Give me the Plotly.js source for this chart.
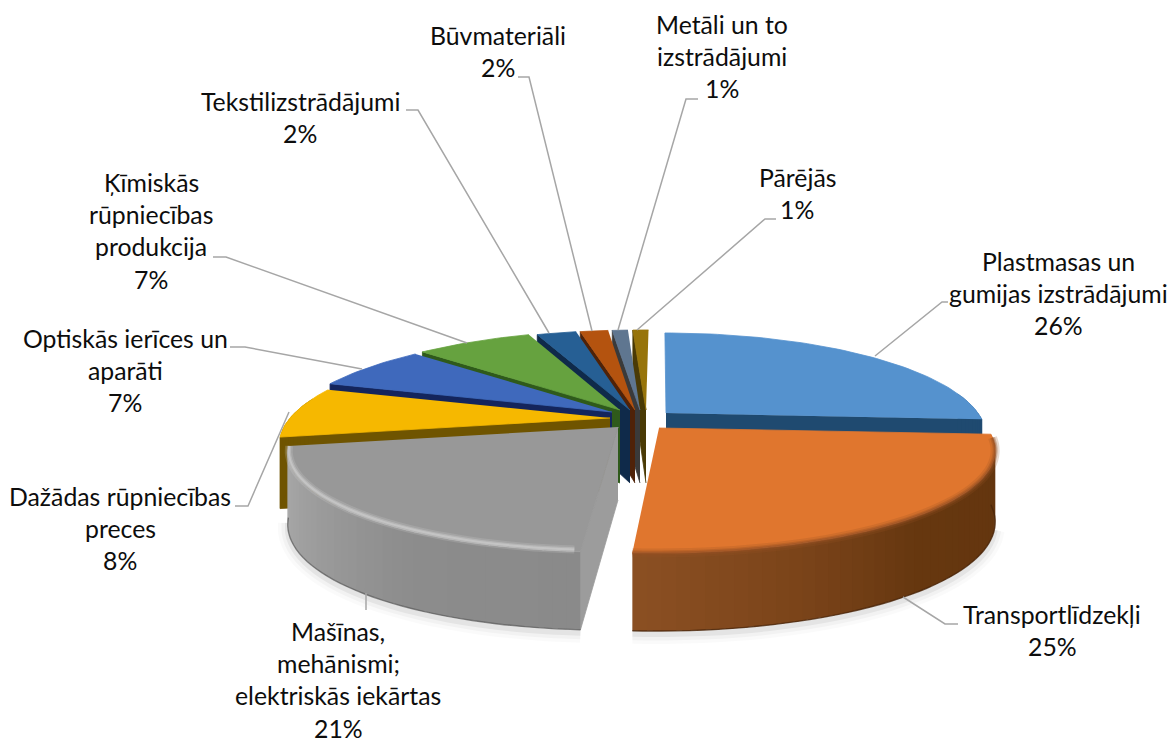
<!DOCTYPE html>
<html><head><meta charset="utf-8">
<script src="https://cdn.plot.ly/plotly-3.0.1.min.js"></script>
<style>html,body{margin:0;padding:0;background:#fff}#c{width:1171px;height:740px}</style></head>
<body><div id="c"></div>
<script>
// --- data ---
const categories = ["Plastmasas un|gumijas izstrādājumi","Transportlīdzekļi","Mašīnas,|mehānismi;|elektriskās iekārtas","Dažādas rūpniecības|preces","Optiskās ierīces un|aparāti","Ķīmiskās|rūpniecības|produkcija","Tekstilizstrādājumi","Būvmateriāli","Metāli un to|izstrādājumi","Pārējās"];
const shares = [26,25,21,8,7,7,2.4,1.7,0.95,0.95];
// --- styling ---
const topColors = ["#5592CE","#E0762E","#989898","#F6B800","#3F69BC","#66A23F","#265F94","#B4530F","#5F7690","#97740A"];
const faceColors = ["#1F4A70","#6A3A14","#9C9C9C","#6F5400","#14255C","#2F5A1B","#0F2A4A","#4F2208","#3A3A3A","#4A3A05"];
const wallStops = [
 [[0,"#1F4A70"],[360,"#1F4A70"]],
 [[93,"#63350F"],[140,"#66370F"],[160,"#7A4319"],[184,"#8B5023"]],
 [[183,"#8A8A8A"],[210,"#8C8C8C"],[240,"#A0A0A0"],[260,"#ABABAB"]],
 [[259,"#6F5400"],[290,"#6F5400"]],
 [[0,"#14255C"],[360,"#14255C"]],[[0,"#2F5A1B"],[360,"#2F5A1B"]],[[0,"#0F2A4A"],[360,"#0F2A4A"]],
 [[0,"#4F2208"],[360,"#4F2208"]],[[0,"#3A3A3A"],[360,"#3A3A3A"]],[[0,"#4A3A05"],[360,"#4A3A05"]]];
const apexX = [666,659,618,610,612,620,630,635,640,646];
const apexY = [413,428,427,418,412,410,410,410,410,410];
const radiusX = [312,328,320,320,320,320,320,320,320,320];
const vanishX = 660, depthK = 0.2195, depthB = 97.6;
const paintOrder = [9,8,7,6,5,4,3,0,2,1];
const labelX = [1058,1052,338,120,125,151,300,498,722,797];
const labelY = [261,614,631,496,338,182,101,35,24,177];
const lineGap = 32.4;
const leaders = [
 "M875,356 L942,302 L948,302",
 "M903,597 L945,624 L958,624",
 "M366,593 L366,610",
 "M289,412 L248,506 L235,506",
 "M362,369 L245,347 L230,347",
 "M467,343 L226,257 L213,257",
 "M549,333 L418,110 L406,110",
 "M592,331 L529,77 L518,77",
 "M618,330 L686,99 L698,99",
 "M637,330 L765,219 L776,219"];

// --- projection of the tilted disc, driven by the share angles ---
const total = shares.reduce((a,b)=>a+b,0);
let acc = 0;
const startAngle = [], endAngle = [];
shares.forEach(v=>{startAngle.push(acc/total*360);acc+=v;endAngle.push(acc/total*360);});
const rad = d=>d*Math.PI/180;
function rim(i,t){
  const d = 1+depthK*Math.cos(rad(t));
  return [vanishX+(apexX[i]-vanishX+radiusX[i]*Math.sin(rad(t)))/d, apexY[i]-depthB*Math.cos(rad(t))/d];
}
const wallH = t=>70-8*Math.cos(rad(t));
function hex(c){return [1,3,5].map(k=>parseInt(c.substr(k,2),16));}
function wallColor(i,t){
  const s = wallStops[i];
  if(t<=s[0][0]) return s[0][1];
  for(let k=1;k<s.length;k++) if(t<=s[k][0]){
    const f=(t-s[k-1][0])/(s[k][0]-s[k-1][0]),a=hex(s[k-1][1]),b=hex(s[k][1]);
    return `rgb(${a.map((v,j)=>Math.round(v+(b[j]-v)*f)).join(",")})`;
  }
  return s[s.length-1][1];
}
const traces = [];
function poly(pts,color,lw){
  traces.push({type:"scatter",mode:"lines",x:pts.map(p=>p[0]),y:pts.map(p=>p[1]),fill:"toself",fillcolor:color,
    line:{color:color,width:lw===undefined?0.8:lw},hoverinfo:"skip",showlegend:false});
}
function stroke(pts,color,w){
  traces.push({type:"scatter",mode:"lines",x:pts.map(p=>p[0]),y:pts.map(p=>p[1]),
    line:{color:color,width:w,shape:"spline",smoothing:0.6},hoverinfo:"skip",showlegend:false});
}
function arc(i,a,b,step,dy){
  const n=Math.max(2,Math.ceil((b-a)/step)),out=[];
  for(let k=0;k<=n;k++){const t=a+(b-a)*k/n,p=rim(i,t);out.push([p[0],p[1]+(dy?wallH(t):0)]);}
  return out;
}
// soft shadow under the front rim
[[20,0.02],[13,0.03],[6,0.055]].forEach(([w,o])=>{
  [1,2].forEach(i=>stroke(arc(i,Math.max(startAngle[i],105),Math.min(endAngle[i],258),5,true).map(p=>[p[0],p[1]+3]),`rgba(0,0,0,${o})`,w));
});
paintOrder.forEach(i=>{
  const a=startAngle[i],b=endAngle[i];
  // radial cut face
  const faceT = i===0?b:a;
  if(i!==1){
    const r=rim(i,faceT);
    poly([[apexX[i],apexY[i]],r,[r[0],r[1]+wallH(faceT)],[apexX[i],apexY[i]+73]],faceColors[i]);
  }
  // outer wall (front-facing part only), shaded strip by strip, each overlapping the next
  const lo=Math.max(a,78),hi=Math.min(b,282);
  if(hi>lo){
    const step=2,n=Math.ceil((hi-lo)/step);
    for(let k=0;k<n;k++){
      const t0=lo+(hi-lo)*k/n,t1=Math.min(hi,lo+(hi-lo)*(k+1)/n+1.2);
      const top=arc(i,t0,t1,step,false),bot=arc(i,t0,t1,step,true).reverse();
      poly(top.concat(bot),wallColor(i,(t0+t1)/2),0);
    }
    if(i===1||i===2) stroke(arc(i,lo,hi,4,true),i===1?"rgba(74,38,10,0.8)":"rgba(90,90,90,0.7)",1.4);
  }
  // top surface
  poly([[apexX[i],apexY[i]]].concat(arc(i,a,b,1.5,false)),topColors[i]);
  if(i===1) [[9,0.22],[5,0.35],[2.5,0.5]].forEach(([w,o])=>stroke(arc(i,a+2,b,4,false),`rgba(150,80,35,${o})`,w));
  if(i===2) [[8,0.2],[4.5,0.35],[2,0.45]].forEach(([w,o])=>stroke(arc(i,a+1,b-1,4,false).map(p=>[p[0]+1,p[1]-2]),`rgba(215,215,215,${o})`,w));
});
// --- labels: one real text per line, the last line is the share ---
const annotations=[];
categories.forEach((c,i)=>{
  const lines=c.split("|").concat([Math.round(shares[i]/total*100)+"%"]);
  lines.forEach((t,k)=>annotations.push({text:t,x:labelX[i],y:labelY[i]+k*lineGap,xref:"x",yref:"y",
    xanchor:"center",yanchor:"middle",showarrow:false,font:{family:"Lato, 'Open Sans', sans-serif",size:24.8,color:"#0D0D0D"}}));
});
const shapes=leaders.map(p=>({type:"path",path:p,xref:"x",yref:"y",line:{color:"#A6A6A6",width:1.5},layer:"above"}));
const hidden={visible:false,fixedrange:true};
Plotly.newPlot("c",traces,{
  width:1171,height:740,margin:{l:0,r:0,t:0,b:0},paper_bgcolor:"#fff",plot_bgcolor:"#fff",showlegend:false,
  xaxis:Object.assign({range:[0,1171]},hidden),yaxis:Object.assign({range:[740,0]},hidden),
  annotations,shapes
},{displayModeBar:false,staticPlot:true});
</script></body></html>
